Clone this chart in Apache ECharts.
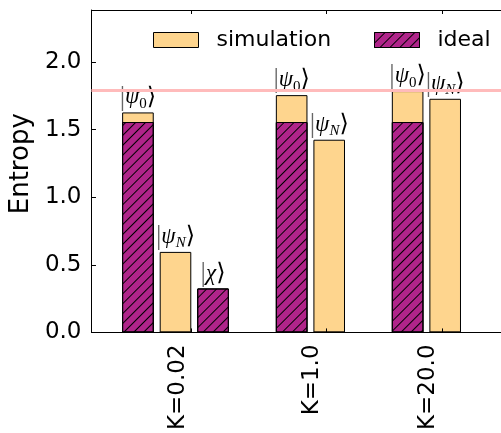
<!DOCTYPE html>
<html>
<head>
<meta charset="utf-8">
<script src="https://cdn.jsdelivr.net/npm/echarts@6/dist/echarts.min.js"></script>
<style>html,body{margin:0;padding:0;background:#fff}#chart{width:501px;height:433px}</style>
</head>
<body>
<div id="chart"></div>
<script>
// ---- data ----
const categories = ['K=0.02', 'K=1.0', 'K=20.0'];
const states = ['psi0', 'psiN', 'chi'];
const simPsi0 = [1.628, 1.756, 1.786];
const idealPsi0 = [1.557, 1.557, 1.557];
const simPsiN = [0.596, 1.426, 1.729];
const idealPsiN = [0, 0, 0];
const simChi = [0.325, null, null];
const idealChi = [0.325, null, null];
const referenceEntropy = 1.79;
const yTickValues = [0, 0.5, 1.0, 1.5, 2.0];

// ---- layout (x axis measured in bar slots) ----
const X_MAX = 10.904;
const Y_MAX = 2.386;
const groupStart = [1.237, 5.330, 8.418];
const tickPos = [2.652, 6.242, 9.335];
const labelPos = [2.309, 5.870, 8.971];

const simByState = { psi0: simPsi0, psiN: simPsiN, chi: simChi };
const idealByState = { psi0: idealPsi0, psiN: idealPsiN, chi: idealChi };

function buildBars(byState) {
  const out = [];
  categories.forEach((c, g) => {
    let k = 0;
    states.forEach(s => {
      const sv = simByState[s][g];
      if (sv === null || sv === undefined) return;
      out.push({ value: [groupStart[g] + k, byState[s][g]], state: s });
      k++;
    });
  });
  return out;
}

const richLabels = {
  psi0: '{bar||}{g|ψ}{s|0}{br|⟩}',
  psiN: '{bar||}{g|ψ}{si|N}{br|⟩}',
  chi: '{bar||}{g|χ}{br|⟩}'
};

function nearestIndex(arr, v) {
  let best = 0;
  arr.forEach((a, i) => { if (Math.abs(a - v) < Math.abs(arr[best] - v)) best = i; });
  return best;
}

const chart = echarts.init(document.getElementById('chart'), null, { renderer: 'canvas' });
const font = 'DejaVu Sans';
const legendCommon = {
  top: 29, padding: 0, itemWidth: 45, itemHeight: 15, selectedMode: false,
  textStyle: { fontFamily: font, fontSize: 22, color: '#000', padding: [0, 0, 0, 13] }
};
const option = {
  animation: false,
  backgroundColor: '#fff',
  grid: { left: 91, right: 0, top: 10, bottom: 100 },
  legend: [
    Object.assign({ left: 153, data: [{ name: 'simulation', icon: 'rect', itemStyle: { borderColor: '#000', borderWidth: 1 } }] }, legendCommon),
    Object.assign({ left: 374, data: [{ name: 'ideal', icon: 'rect', itemStyle: { borderColor: '#000', borderWidth: 1 } }] }, legendCommon)
  ],
  xAxis: [
    {
      type: 'value', min: 0, max: X_MAX, position: 'bottom', z: 3,
      axisLine: { show: true, lineStyle: { color: '#000', width: 1 } },
      splitLine: { show: false },
      axisTick: { show: true, inside: true, length: 4, customValues: tickPos, lineStyle: { color: '#000' } },
      axisLabel: {
        customValues: labelPos, rotate: 90, margin: 12,
        fontFamily: font, fontSize: 23, color: '#000',
        formatter: v => categories[nearestIndex(labelPos, v)]
      }
    },
    {
      type: 'value', min: 0, max: X_MAX, position: 'top', z: 3,
      axisLine: { show: true, lineStyle: { color: '#000', width: 1 } },
      splitLine: { show: false },
      axisTick: { show: true, inside: true, length: 4, customValues: tickPos, lineStyle: { color: '#000' } },
      axisLabel: { show: false }
    }
  ],
  yAxis: {
    type: 'value', min: 0, max: Y_MAX, z: 3,
    axisLine: { show: true, lineStyle: { color: '#000', width: 1 } },
    splitLine: { show: false },
    axisTick: { show: true, inside: true, length: 4.5, customValues: yTickValues, lineStyle: { color: '#000' } },
    axisLabel: {
      customValues: yTickValues, margin: 10,
      fontFamily: font, fontSize: 23, color: '#000',
      formatter: v => v.toFixed(1)
    },
    name: 'Entropy', nameLocation: 'middle', nameGap: 56,
    nameTextStyle: { fontFamily: font, fontSize: 26, color: '#000', padding: [0, 0, 0, 15] }
  },
  series: [
    {
      name: 'simulation', type: 'bar', barWidth: 31.6, barGap: '-100%',
      itemStyle: { color: '#FED58E', borderColor: '#000', borderWidth: 1 },
      label: {
        show: true, position: 'top', distance: 1,
        formatter: p => richLabels[p.data.state],
        rich: {
          bar: { fontFamily: 'Liberation Serif', fontSize: 27, color: '#666', lineHeight: 28, verticalAlign: 'middle' },
          g: { fontFamily: 'Liberation Serif', fontStyle: 'italic', fontSize: 23, color: '#000', lineHeight: 28, verticalAlign: 'middle' },
          s: { fontFamily: 'Liberation Serif', fontSize: 15, color: '#000', lineHeight: 28, verticalAlign: 'bottom' },
          si: { fontFamily: 'Liberation Serif', fontStyle: 'italic', fontSize: 15, color: '#000', lineHeight: 28, verticalAlign: 'bottom' },
          br: { fontFamily: 'DejaVu Sans', fontSize: 24, color: '#000', lineHeight: 28, verticalAlign: 'middle' }
        }
      },
      markLine: {
        silent: true, symbol: ['none', 'none'],
        label: { show: false },
        lineStyle: { color: '#FFBBBB', width: 3, type: 'solid' },
        data: [{ yAxis: referenceEntropy }]
      },
      data: buildBars(simByState)
    },
    {
      name: 'ideal', type: 'bar', barWidth: 31.6, barGap: '-100%',
      itemStyle: {
        color: '#B0248A', borderColor: '#000', borderWidth: 1,
        decal: { symbol: 'rect', symbolSize: 1, dashArrayX: [1, 0], dashArrayY: [0.9, 5.8], rotation: -Math.PI / 4, color: '#000' }
      },
      data: buildBars(idealByState)
    }
  ]
};
chart.setOption(option);
</script>
</body>
</html>
